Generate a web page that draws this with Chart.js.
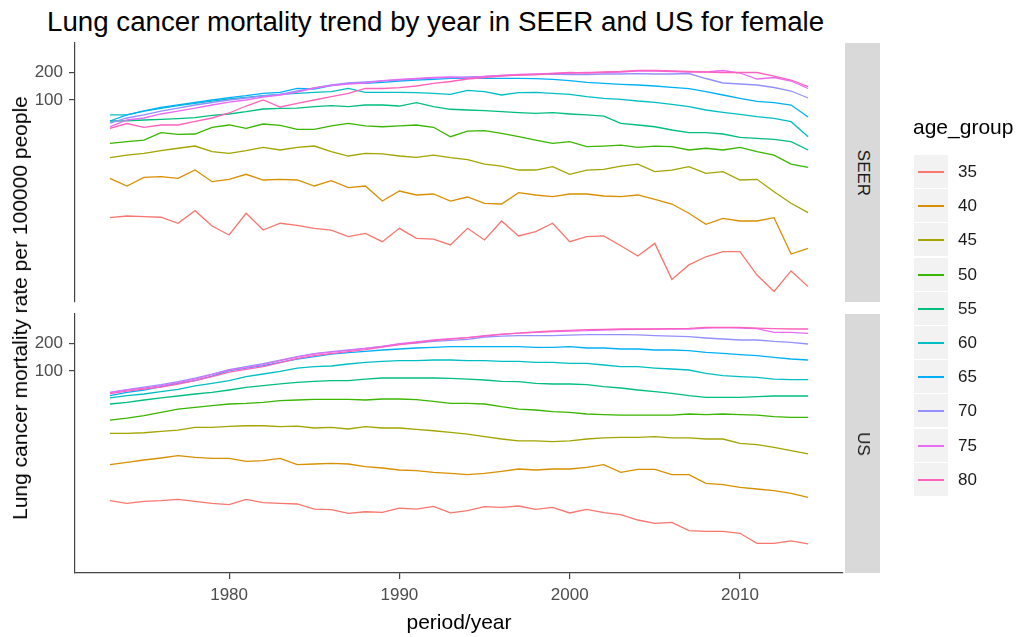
<!DOCTYPE html>
<html>
<head>
<meta charset="utf-8">
<script src="https://cdn.jsdelivr.net/npm/chart.js@4.4.0/dist/chart.umd.min.js"></script>
<style>
  body { margin: 0; background: #fff; font-family: "Liberation Sans", Arial, sans-serif; }
  #wrap { position: relative; width: 1023px; height: 637px; overflow: hidden; }
  canvas { position: absolute; left: 0; }
  .txt { position: absolute; white-space: nowrap; }
  .strip { position: absolute; left: 845px; width: 35px; background: #d9d9d9; }
  .strip span { position: absolute; left: 50%; top: 50%; transform: translate(-50%, -50%) rotate(90deg);
                font-size: 17px; color: #1a1a1a; }
  .key { position: absolute; left: 914px; width: 34px; height: 33px; background: #f2f2f2; }
  .key i { position: absolute; display: block; left: 4px; width: 26px; top: 16px; height: 2px; }
  .klab { position: absolute; left: 958px; font-size: 17px; color: #1a1a1a; line-height: 34px; }
</style>
</head>
<body>
<div id="wrap">
  <div class="txt" style="left:47px; top:8px; font-size:27.7px; line-height:1; color:#000;">Lung cancer mortality trend by year in SEER and US for female</div>
  <canvas id="seer" width="1023" height="337" style="top:0"></canvas>
  <canvas id="us" width="1023" height="361" style="top:276px"></canvas>
  <div class="strip" style="top:43px; height:259px;"><span>SEER</span></div>
  <div class="strip" style="top:314px; height:259px;"><span>US</span></div>
  <div class="txt" style="left:20px; top:308px; font-size:21px; color:#000; transform:translate(-50%,-50%) rotate(-90deg);">Lung cancer mortality rate per 100000 people</div>
  <div class="txt" style="left:459px; top:610px; font-size:21px; color:#000; transform:translateX(-50%);">period/year</div>
  <div class="txt" style="left:913px; top:115px; font-size:21px; color:#000;">age_group</div>
  <div id="legend"></div>
</div>
<script>
// data (rate per 100000, log scale)
const years = [1973,1974,1975,1976,1977,1978,1979,1980,1981,1982,1983,1984,1985,1986,1987,1988,1989,1990,1991,1992,
               1993,1994,1995,1996,1997,1998,1999,2000,2001,2002,2003,2004,2005,2006,2007,2008,2009,2010,2011,2012,2013,2014];
const ageGroups = ['35','40','45','50','55','60','65','70','75','80'];
const colors = ['#F8766D','#D89000','#A3A500','#39B600','#00BF7D','#00BFC4','#00B0F6','#9590FF','#E76BF3','#FF62BC'];
const xTicks = [1980, 1990, 2000, 2010];
const yTicks = [100, 200];

const seer35 = [5.34,5.57,5.48,5.40,4.65,6.36,4.34,3.47,5.96,3.93, 4.65,4.42,4.10,3.93,3.33,3.62,2.94,4.10,3.20,3.14,
                2.71,4.10,3.07,4.92,3.39,3.77,4.65,2.94,3.33,3.39, 2.66,2.06,2.82,1.15,1.65,2.02,2.29,2.29,1.28,0.85, 1.42,0.96];
const seer40 = [14.24,11.76,14.60,14.82,14.24,17.5,13.09,13.89,15.73,13.65, 13.89,13.65,11.76,13.41,11.27,11.76,8.09,10.38,9.40,9.63,
                8.09,8.94,7.64,7.51,9.95,9.40,9.01,9.63,9.63,9.17, 9.01,9.40,8.45,7.51,5.96,4.53,5.26,4.92,4.92,5.34, 2.16,2.49];
const seer45 = [23.8,25.4,26.5,28.3,30.1,31.8,27.6,26.5,28.3,30.8, 28.8,30.8,31.8,27.6,24.8,26.5,26.1,24.8,24.0,25.4,
                23.8,22.7,20.3,19.3,17.5,17.5,19.0,15.7,17.5,17.8, 19.3,20.3,16.8,17.5,19.0,16.1,16.8,13.65,13.89,10.2, 7.64,6.05];
const seer50 = [34.0,35.4,36.9,44.3,42.6,42.9,50.7,53.7,49.4,55.0, 53.3,48.2,48.2,52.4,56.0,52.4,51.4,52.4,53.7,50.7,
                40.1,46.2,46.6,43.6,40.1,36.9,34.0,35.4,31.3,31.8, 32.6,30.8,31.8,31.3,28.8,30.1,28.8,30.8,27.6,25.4, 20.3,18.7];
const seer55 = [59.3,59.7,60.8,61.8,62.8,64.4,68.3,70.6,74.7,79.9, 81.3,81.9,84.6,86.8,84.6,88.3,88.3,86.1,93.5,84.6,
                79.4,78.0,76.6,74.7,72.9,71.8,72.9,70.6,68.9,67.1, 56.0,53.7,51.4,47.4,44.3,44.3,42.9,39.5,38.5,37.6, 35.4,28.8];
const seer60 = [68.9,68.9,76.0,81.3,86.8,92.1,97.5,102.5,106.9,111.3, 115.2,118.1,121.1,122.9,133.8,121.1,121.1,121.1,119.9,118.1,
                115.2,127.3,122.9,113.3,119.9,121.1,118.1,115.2,108.6,104.3, 101.8,97.5,94.4,89.9,84.6,78.0,73.6,70.1,66.0,63.4, 58.3,40.1];
const seer65 = [59.3,68.9,76.5,83.0,88.5,94.0,100.0,105.9,111.3,118.1, 121.1,133.8,131.5,142.8,151.5,151.5,155.3,160.4,164.5,167.4,
                171.5,171.5,171.5,171.5,171.5,170.0,167.4,162.4,154.7,151.5, 147.8,145.3,141.7,137.2,132.5,122.9,113.3,104.3,96.8,93.5, 88.3,65.5];
const seer70 = [56.4,63.9,68.9,76.0,81.9,88.3,94.0,100,105.1,110.5, 114.7,125.1,134.8,145.3,152.7,156.5,160.4,164.5,168.7,172.9,
                175.1,177.3,179.5,184.0,186.3,188.7,191.0,188.7,188.7,191.0, 191.0,192.4,191.0,191.0,193.4,170.8,152.7,148.9,145.3,136.5, 125.1,105.1];
const seer75 = [51.1,60.8,63.9,70.6,76.0,81.9,88.3,95.1,100,107.7, 113.3,122.0,134.8,143.5,148.9,152.7,162.4,166.5,170.8,175.1,
                177.3,172.9,179.5,184.0,188.7,191.0,193.4,195.8,198.3,198.3, 200.8,205.8,205.8,203.3,200.8,200.8,208.4,195.8,168.7,175.1, 160.4,133.1];
const seer80 = [49.4,55.7,50.7,53.7,53.7,58.6,63.9,72.4,86.1,100, 84.0,91.7,100,108.6,117.6,133.8,133.1,135.8,141.7,151.5,
                158.5,168.7,175.1,181.7,186.3,188.7,193.4,198.3,195.8,200.8, 203.3,208.4,208.4,205.8,203.3,200.8,198.3,198.3,198.3,181.7, 164.5,139.3];

const us35 = [3.96,3.71,3.89,3.96,4.09,3.89,3.71,3.59,4.09,3.77, 3.71,3.65,3.22,3.17,2.89,3.01,2.96,3.30,3.22,3.44,
              2.92,3.09,3.41,3.35,3.47,3.19,3.35,2.92,3.19,2.94, 2.80,2.45,2.25,2.31,1.88,1.85,1.85,1.76,1.37,1.37, 1.46,1.35];
const us40 = [9.71,10.28,10.91,11.47,12.15,11.64,11.36,11.36,10.54,10.72, 11.36,9.71,9.88,10.03,9.88,9.24,8.94,8.51,8.36,8.01,
              7.82,7.57,7.82,8.22,8.72,8.51,8.72,8.72,9.08,9.71, 8.01,8.64,8.64,7.57,7.57,6.10,5.90,5.52,5.30,5.08, 4.75,4.30];
const us45 = [21.2,21.2,21.5,22.2,23.0,24.6,24.6,25.2,25.6,25.6, 25.0,25.4,24.2,24.6,23.6,25.0,24.2,24.2,23.4,22.6,
              21.7,20.8,19.5,18.4,17.6,17.6,17.2,17.6,18.4,18.9, 19.2,19.2,19.5,18.9,18.9,18.4,18.4,16.5,16.0,14.9, 13.8,12.7];
const us50 = [29.5,31.0,32.9,35.7,38.8,40.4,42.2,44.0,44.6,45.8, 47.8,48.6,49.3,49.3,49.3,48.6,49.8,49.8,49.0,46.9,
              44.6,44.6,44.0,41.1,38.8,37.9,36.3,35.7,34.3,33.7, 33.4,33.4,33.4,33.4,34.3,33.7,34.3,33.7,33.4,32.1, 31.5,31.5];
const us55 = [44.0,45.8,48.6,51.1,53.7,56.4,58.7,62.3,66.5,69.4, 72.4,75.3,77.2,78.6,78.6,81.9,84.0,84.0,84.0,84.0,
              83.2,81.9,79.9,77.2,76.6,73.5,72.4,72.4,71.1,67.7, 65.5,62.3,59.7,57.3,54.1,51.8,51.8,51.8,52.8,53.7, 53.7,53.7];
const us60 = [51.1,54.1,56.4,59.7,63.3,68.9,73.5,78.6,86.8,92.8, 99.0,107.7,111.3,113.3,119.0,123.9,127.0,129.2,129.2,131.5,
              131.5,129.2,129.2,127.0,127.0,123.9,123.9,120.8,120.8,116.1, 111.3,111.3,107.7,105.1,102.5,94.2,89.0,86.8,85.3,81.9, 80.5,80.5];
const us65 = [54.1,58.7,62.3,67.7,73.5,78.6,88.3,100.7,107.7,114.1, 123.9,134.8,142.8,152.7,157.7,162.8,168.7,172.9,177.3,180.0,
              183.1,183.1,183.1,183.1,183.1,180.0,180.0,183.1,177.3,177.3, 172.9,172.9,168.7,168.7,165.7,158.9,155.0,150.0,146.3,140.3, 134.8,131.5];
const us70 = [58.7,62.8,66.8,71.1,76.6,83.6,92.3,103.3,111.3,119.9, 130.9,142.8,153.8,161.7,168.7,175.5,184.5,193.9,200.7,208.9,
              214.2,219.6,233.1,237.8,240.8,240.8,240.8,243.8,246.9,246.9, 246.9,245.6,240.8,237.8,234.9,227.4,221.8,216.3,216.3,208.9, 203.8,195.8];
const us75 = [58.3,62.3,65.2,69.4,74.7,81.5,91.2,102.0,108.6,117.0, 129.2,141.0,152.7,159.7,167.0,175.5,184.5,197.3,205.8,216.3,
              223.4,229.1,240.8,249.9,256.2,261.4,266.0,270.6,272.6,277.5, 279.6,281.7,283.1,284.4,284.4,290.2,293.8,291.6,286.6,261.4, 261.4,255.0];
const us80 = [56.8,60.5,63.6,67.1,72.0,78.6,86.8,97.1,104.1,111.3, 122.9,135.8,146.3,153.8,161.7,169.9,180.8,192.4,202.2,212.6,
              220.7,229.1,237.8,248.7,256.2,264.0,270.6,274.7,279.6,281.7, 284.4,284.4,284.4,286.6,288.7,296.0,296.0,296.0,290.2,286.6, 284.4,284.4];

const seerSeries = [seer35, seer40, seer45, seer50, seer55, seer60, seer65, seer70, seer75, seer80];
const usSeries = [us35, us40, us45, us50, us55, us60, us65, us70, us75, us80];

const FONT = '"Liberation Sans", Arial, sans-serif';
const axisCol = '#444';

// showX: bottom facet gets the real x axis; the top facet keeps an empty one of fixed height
function makePanel(id, series, showX, pad, xHeight) {
  const datasets = series.map((vals, i) => ({
    label: ageGroups[i],
    data: years.map((yr, j) => ({ x: yr, y: vals[j] })),
    borderColor: colors[i],
    borderWidth: 1.3,
    pointRadius: 0,
    fill: false,
    tension: 0,
    order: series.length - i   // later age groups on top, like ggplot
  }));
  return new Chart(document.getElementById(id), {
    type: 'line',
    data: { datasets: datasets },
    options: {
      responsive: false,
      animation: false,
      events: [],
      layout: { padding: pad },
      plugins: { legend: { display: false }, tooltip: { enabled: false } },
      scales: {
        x: {
          type: 'linear', min: 1970.95, max: 2016.05,
          afterBuildTicks: s => { s.ticks = xTicks.map(v => ({ value: v })); },
          afterFit: s => { s.height = xHeight; },
          grid: { display: showX, drawOnChartArea: false, drawTicks: true, tickLength: 6, color: axisCol, lineWidth: 1.2 },
          border: { display: showX, color: axisCol, width: 1.2 },
          ticks: { display: showX, font: { size: 17, family: FONT }, color: '#4d4d4d', padding: 6, maxRotation: 0,
                   autoSkip: false, callback: v => String(v) }
        },
        y: {
          type: 'logarithmic', min: 0.655, max: 413.3,
          afterBuildTicks: s => { s.ticks = yTicks.map(v => ({ value: v })); },
          afterFit: s => { s.width = 75; },
          grid: { drawOnChartArea: false, drawTicks: true, tickLength: 6, color: axisCol, lineWidth: 1.2 },
          border: { display: true, color: axisCol, width: 1.2 },
          ticks: { font: { size: 17, family: FONT }, color: '#4d4d4d', padding: 6, callback: v => String(v) }
        }
      }
    }
  });
}

makePanel('seer', seerSeries, false, { top: 43, right: 180, bottom: 0, left: 0 }, 35);
makePanel('us', usSeries, true, { top: 38, right: 180, bottom: 0, left: 0 }, 64);

// legend keys
const leg = document.getElementById('legend');
ageGroups.forEach((g, i) => {
  const top = Math.round(155 + i * 34.2);
  const k = document.createElement('div');
  k.className = 'key';
  k.style.top = top + 'px';
  k.innerHTML = '<i style="background:' + colors[i] + '"></i>';
  leg.appendChild(k);
  const l = document.createElement('div');
  l.className = 'klab';
  l.style.top = top + 'px';
  l.textContent = g;
  leg.appendChild(l);
});
</script>
</body>
</html>
